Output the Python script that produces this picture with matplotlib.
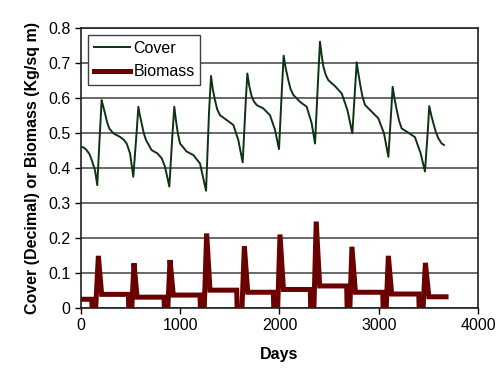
import matplotlib
matplotlib.use("Agg")
import matplotlib.pyplot as plt

plt.rcParams['font.family'] = ['Liberation Sans', 'DejaVu Sans']

# Cover (decimal)
cover_days = [0, 30, 57, 85, 108, 141, 164, 185, 208, 222, 242, 262, 285, 326, 393, 430, 460, 494,
              527, 560, 578, 592, 611, 632, 655, 712, 769, 813, 846,
              890, 920, 940, 955, 975, 998, 1065, 1132, 1199,
              1260, 1290, 1310, 1328, 1350, 1372, 1400, 1468, 1535, 1585,
              1629, 1660, 1676, 1695, 1720, 1745, 1770, 1837, 1904, 1955,
              1995, 2025, 2042, 2062, 2089, 2112, 2139, 2207, 2274, 2324,
              2358, 2390, 2408, 2423, 2442, 2466, 2492, 2559, 2627, 2684,
              2734, 2762, 2778, 2792, 2811, 2835, 2862, 2929, 2996, 3053,
              3097, 3125, 3140, 3158, 3181, 3205, 3231, 3298, 3365, 3422,
              3466, 3495, 3509, 3528, 3550, 3575, 3600, 3634, 3657]
cover_vals = [0.461, 0.458, 0.451, 0.440, 0.423, 0.394, 0.351, 0.470, 0.594, 0.578, 0.556, 0.532, 0.513, 0.499, 0.489, 0.481, 0.470, 0.442,
              0.375, 0.500, 0.575, 0.552, 0.528, 0.500, 0.480, 0.451, 0.442, 0.428, 0.404,
              0.347, 0.490, 0.575, 0.540, 0.500, 0.470, 0.447, 0.437, 0.413,
              0.335, 0.560, 0.663, 0.625, 0.594, 0.568, 0.551, 0.537, 0.523, 0.480,
              0.416, 0.590, 0.670, 0.635, 0.604, 0.589, 0.580, 0.570, 0.551, 0.509,
              0.454, 0.630, 0.721, 0.686, 0.651, 0.625, 0.609, 0.589, 0.575, 0.528,
              0.470, 0.660, 0.761, 0.725, 0.690, 0.666, 0.651, 0.634, 0.613, 0.566,
              0.499, 0.630, 0.702, 0.675, 0.642, 0.605, 0.580, 0.561, 0.542, 0.499,
              0.432, 0.560, 0.632, 0.600, 0.566, 0.535, 0.513, 0.501, 0.488, 0.442,
              0.390, 0.510, 0.577, 0.552, 0.528, 0.503, 0.485, 0.470, 0.466]

# Biomass (kg/sq m)
biomass_days = [0, 108, 112, 148, 175, 208,
                477, 481, 512, 534, 565,
                836, 840, 875, 897, 930,
                1199, 1203, 1242, 1266, 1300,
                1569, 1573, 1622, 1646, 1680,
                1938, 1942, 1982, 2005, 2040,
                2310, 2314, 2347, 2370, 2405,
                2677, 2681, 2709, 2730, 2765,
                3040, 3044, 3075, 3097, 3130,
                3403, 3407, 3447, 3470, 3505, 3678]
biomass_vals = [0.025, 0.025, 0.0, 0.0, 0.149, 0.039,
                0.039, 0.0, 0.0, 0.128, 0.031,
                0.031, 0.0, 0.0, 0.137, 0.037,
                0.037, 0.0, 0.0, 0.213, 0.051,
                0.051, 0.0, 0.0, 0.177, 0.045,
                0.045, 0.0, 0.0, 0.210, 0.053,
                0.053, 0.0, 0.0, 0.247, 0.063,
                0.063, 0.0, 0.0, 0.175, 0.045,
                0.045, 0.0, 0.0, 0.149, 0.040,
                0.040, 0.0, 0.0, 0.129, 0.032, 0.032]

fig = plt.figure(figsize=(5.04, 3.89), dpi=100)
ax = fig.add_axes([0.1607, 0.2082, 0.7877, 0.7198])

ax.plot(cover_days, cover_vals, color='#0d3311', lw=1.4, label='Cover', zorder=3)
ax.plot(biomass_days, biomass_vals, color='#6b0000', lw=3.6, label='Biomass',
        solid_joinstyle='miter', zorder=3)

ax.set_xlim(0, 4000)
ax.set_ylim(0, 0.8)
ax.set_xticks([0, 1000, 2000, 3000, 4000])
ax.set_yticks([0, 0.1, 0.2, 0.3, 0.4, 0.5, 0.6, 0.7, 0.8])
ax.set_yticklabels(['0', '0.1', '0.2', '0.3', '0.4', '0.5', '0.6', '0.7', '0.8'])
ax.yaxis.grid(True, color='#404040', lw=1.1)
ax.set_axisbelow(True)
ax.tick_params(direction='out', length=4, width=1, labelsize=11.5, colors='black')
for s in ax.spines.values():
    s.set_color('#202020')
    s.set_linewidth(1.2)

ax.set_xlabel('Days', fontsize=11.5, fontweight='bold', labelpad=10)
ax.set_ylabel('Cover (Decimal) or Biomass (Kg/sq m)', fontsize=11.5, fontweight='bold', labelpad=6)

leg = ax.legend(loc='upper left', bbox_to_anchor=(0.018, 0.975), fontsize=11.5,
                frameon=True, fancybox=False, edgecolor='#404040', framealpha=1,
                handlelength=2.3, handletextpad=0.2, borderpad=0.35, labelspacing=0.55,
                borderaxespad=0)
leg.get_frame().set_linewidth(1.0)

fig.savefig('out.png', dpi=100)
